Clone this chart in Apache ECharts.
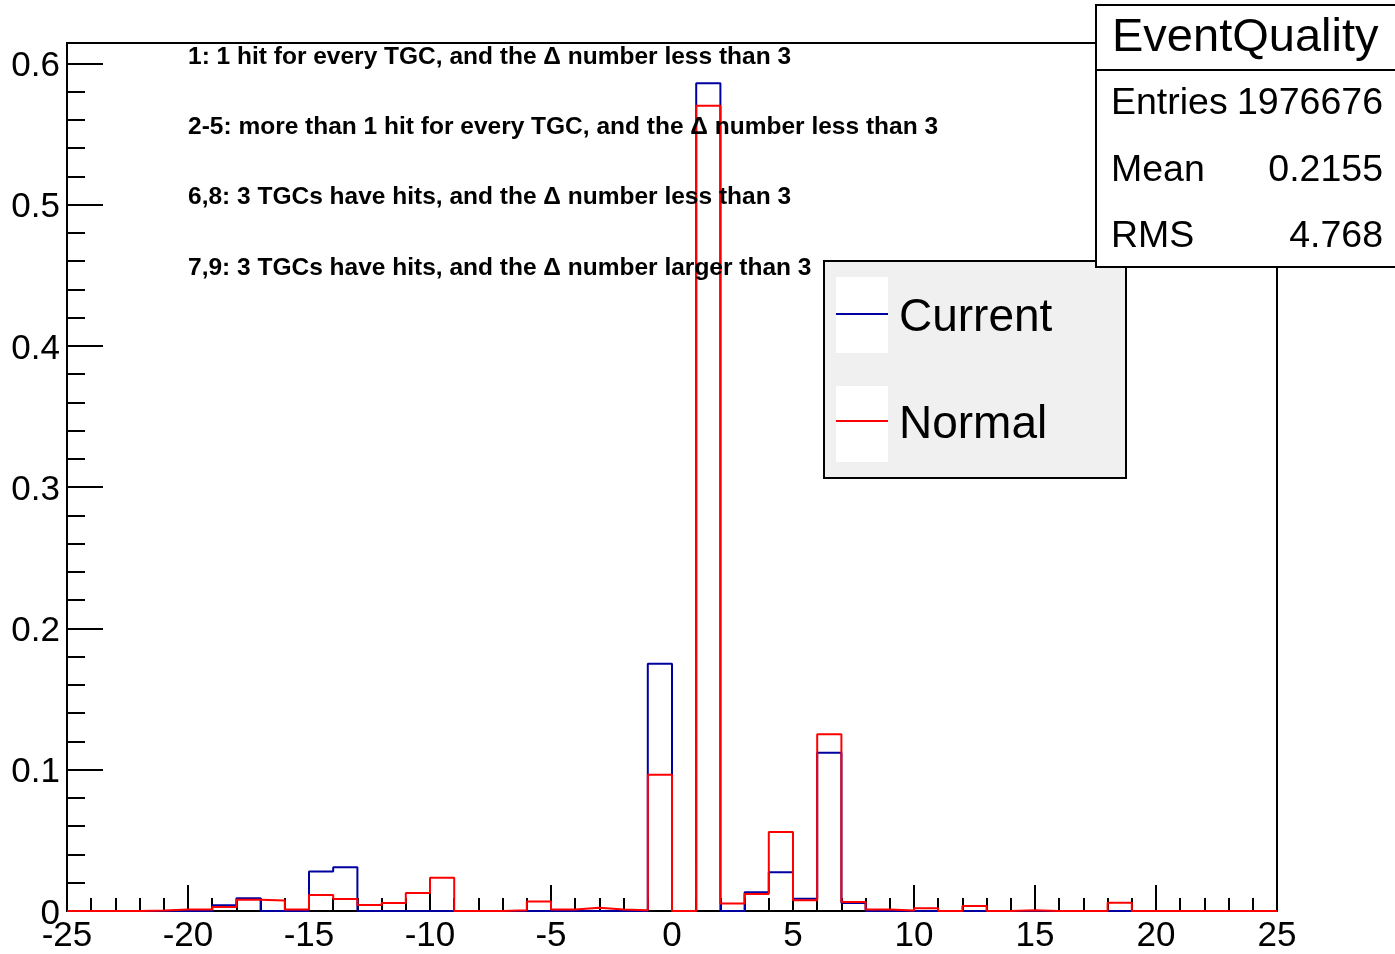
<!DOCTYPE html>
<html>
<head>
<meta charset="utf-8">
<script src="https://cdn.jsdelivr.net/npm/echarts@6/dist/echarts.min.js"></script>
<style>
html,body{margin:0;padding:0;background:#fff;}
#chart{width:1395px;height:954px;}
</style>
</head>
<body>
<div id="chart"></div>
<script>
// Bin edges (width 1) from -25 to 25
const binEdges = [-25,-24,-23,-22,-21,-20,-19,-18,-17,-16,-15,-14,-13,-12,-11,-10,-9,-8,-7,-6,-5,-4,-3,-2,-1,0,1,2,3,4,5,6,7,8,9,10,11,12,13,14,15,16,17,18,19,20,21,22,23,24,25];
// Bin contents (normalised), one per bin, bin low edge -25 .. 24
const currentValues = [0,0,0,0,0,0,0.004,0.009,0,0,0.028,0.031,0,0,0,0,0,0,0,0,0,0,0,0,0.175,0,0.586,0,0.0132,0.0274,0.0087,0.112,0.0057,0,0,0,0,0,0,0,0,0,0,0,0,0,0,0,0,0];
const normalValues = [0,0,0,0.0003,0.001,0.001,0.0028,0.008,0.0075,0.001,0.0113,0.0085,0.0042,0.0057,0.0127,0.0236,0,0,0.0005,0.0068,0.001,0.0023,0.001,0.0005,0.0965,0,0.570,0.0053,0.012,0.0559,0.0076,0.1252,0.0064,0.001,0.0003,0.002,0,0.0035,0,0.0005,0,0,0,0.0059,0,0,0,0,0,0];
const yMajorTicks = [0,0.1,0.2,0.3,0.4,0.5,0.6];
const yMinorTicks = [0.02,0.04,0.06,0.08,0.12,0.14,0.16,0.18,0.22,0.24,0.26,0.28,0.32,0.34,0.36,0.38,0.42,0.44,0.46,0.48,0.52,0.54,0.56,0.58];
const seriesNames = ['Current','Normal'];
const seriesColors = ['#0000a0','#ff0000'];
const statsTitle = 'EventQuality';
const statsRows = [['Entries','1976676'],['Mean','0.2155'],['RMS','4.768']];
const notes = [
  '1: 1 hit for every TGC, and the \u0394 number less than 3',
  '2-5: more than 1 hit for every TGC, and the \u0394 number less than 3',
  '6,8: 3 TGCs have hits, and the \u0394 number less than 3',
  '7,9: 3 TGCs have hits, and the \u0394 number larger than 3'
];

function stepData(vals){
  return binEdges.map((e,i)=>[e, vals[Math.min(i, vals.length-1)]]);
}

const FONT = '"Liberation Sans", Arial, Helvetica, sans-serif';
const chart = echarts.init(document.getElementById('chart'), null, {renderer:'canvas'});

const graphics = [];
// legend box
graphics.push({type:'rect', shape:{x:825,y:262,width:302,height:217}, style:{fill:'#444'}, z:5, silent:true});
graphics.push({type:'rect', shape:{x:824,y:261,width:302,height:217}, style:{fill:'#f0f0f0',stroke:'#000',lineWidth:2}, z:6, silent:true});
graphics.push({type:'rect', shape:{x:836,y:277,width:52,height:76}, style:{fill:'#fff'}, z:7, silent:true});
graphics.push({type:'rect', shape:{x:836,y:386,width:52,height:76}, style:{fill:'#fff'}, z:7, silent:true});
// stats box
graphics.push({type:'rect', shape:{x:1096,y:5,width:320,height:262}, style:{fill:'#fff',stroke:'#000',lineWidth:2}, z:20, silent:true});
graphics.push({type:'line', shape:{x1:1096,y1:70,x2:1400,y2:70}, style:{stroke:'#000',lineWidth:2}, z:21, silent:true});
graphics.push({type:'text', x:1112, y:38, style:{text:statsTitle, font:'47px '+FONT, fill:'#000', textVerticalAlign:'middle'}, z:22, silent:true});
statsRows.forEach((r,i)=>{
  const y = 104 + i*66.5;
  graphics.push({type:'text', x:1111, y:y, style:{text:r[0], font:'37.5px '+FONT, fill:'#000', textVerticalAlign:'middle'}, z:22, silent:true});
  graphics.push({type:'text', x:1383, y:y, style:{text:r[1], font:'37.5px '+FONT, fill:'#000', textAlign:'right', textVerticalAlign:'middle'}, z:22, silent:true});
});
// annotations
notes.forEach((t,i)=>{
  graphics.push({type:'text', x:188, y:57 + i*70.3, style:{text:t, font:'bold 24.5px '+FONT, fill:'#000', textVerticalAlign:'middle'}, z:10, silent:true});
});

const option = {
  animation:false,
  backgroundColor:'#fff',
  grid:{left:67, right:118, top:43, bottom:41, show:true, borderColor:'#000', borderWidth:2, backgroundColor:'transparent'},
  xAxis:{
    type:'value', min:-25, max:25, interval:5,
    axisLine:{show:true, onZero:false, lineStyle:{color:'#000', width:2}},
    axisTick:{show:true, inside:true, length:26, lineStyle:{color:'#000', width:2}},
    minorTick:{show:true, splitNumber:5, length:13, lineStyle:{color:'#000', width:2}},
    axisLabel:{color:'#000', fontSize:35, fontFamily:FONT, margin:8, showMinLabel:true, showMaxLabel:true},
    splitLine:{show:false}
  },
  yAxis:[{
    type:'value', min:0, max:0.6145,
    axisLine:{show:true, onZero:false, lineStyle:{color:'#000', width:2}},
    axisTick:{show:true, inside:true, length:36, customValues:yMajorTicks, lineStyle:{color:'#000', width:2}},
    axisLabel:{color:'#000', fontSize:35, fontFamily:FONT, margin:7, customValues:yMajorTicks,
      formatter:function(v){ return '{v|' + v + '}'; },
      rich:{v:{fontSize:35, fontFamily:FONT, color:'#000', padding:[6,0,0,0]}}},
    splitLine:{show:false}
  },{
    type:'value', min:0, max:0.6145, position:'left', offset:0,
    axisLine:{show:false, onZero:false},
    axisTick:{show:true, inside:true, length:18, customValues:yMinorTicks, lineStyle:{color:'#000', width:2}},
    axisLabel:{show:false},
    splitLine:{show:false}
  }],
  legend:{
    data:seriesNames, orient:'vertical', left:836, top:287, padding:0, itemWidth:52, itemHeight:2, itemGap:53,
    icon:'rect', selectedMode:false, z:8,
    formatter:function(name){ return '{t|' + name + '}'; },
    textStyle:{fontSize:46, fontFamily:FONT, color:'#000',
      rich:{t:{fontSize:46, fontFamily:FONT, color:'#000', lineHeight:50, padding:[8,0,0,6]}}}
  },
  series:[
    {name:seriesNames[0], type:'line', step:'end', data:stepData(currentValues), showSymbol:false, symbol:'none',
     lineStyle:{color:seriesColors[0], width:2}, itemStyle:{color:seriesColors[0]}, z:2, clip:false},
    {name:seriesNames[1], type:'line', step:'end', data:stepData(normalValues), showSymbol:false, symbol:'none',
     lineStyle:{color:seriesColors[1], width:2}, itemStyle:{color:seriesColors[1]}, z:3, clip:false}
  ],
  graphic:graphics
};
chart.setOption(option);
</script>
</body>
</html>
